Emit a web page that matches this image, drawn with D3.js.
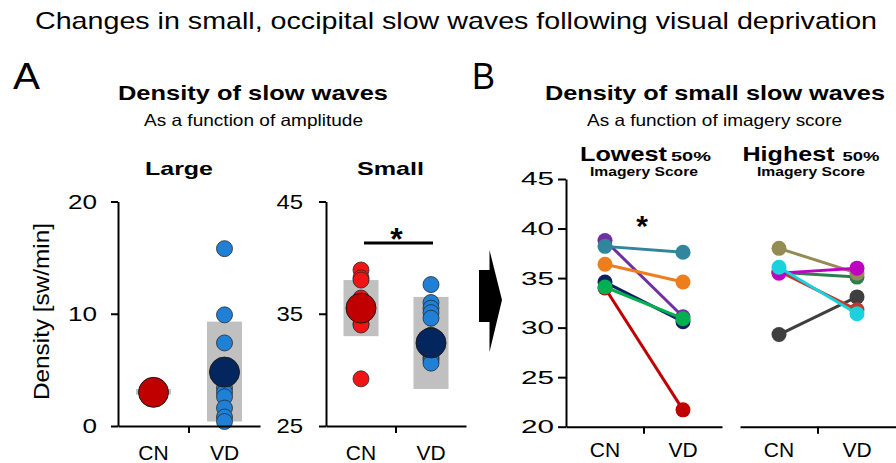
<!DOCTYPE html>
<html><head><meta charset="utf-8">
<script src="https://cdn.jsdelivr.net/npm/d3@7"></script>
<style>html,body{margin:0;padding:0;background:#fff;}svg{display:block;font-family:"Liberation Sans",Arial,sans-serif;}</style>
</head><body>
<svg id="c" width="896" height="463"></svg>
<script>
// ---------- DATA ----------
const groups = ["CN", "VD"];
// Panel A - Large slow waves
const largeCN = [3.4, 3.2, 3.0, 2.9, 2.7, 2.5];
const largeVD = [15.8, 9.9, 7.4, 3.4, 3.0, 2.6, 1.6, 0.8, 0.4];
const largeMean = [3.0, 4.8];
const largeLo = [2.8, 0.4];
const largeHi = [3.3, 9.3];
const largeTicks = [0, 10, 20];
// Panel A - Small slow waves
const smallCN = [38.9, 38.2, 38.0, 36.4, 36.1, 35.7, 35.6, 35.5, 34.6, 34.1, 34.0, 29.2];
const smallVD = [37.6, 36.0, 35.5, 35.1, 34.6, 33.1, 31.9, 31.4, 31.1, 30.9, 30.6];
const smallMean = [35.5, 32.4];
const smallLo = [33.0, 28.3];
const smallHi = [38.0, 36.5];
const smallTicks = [25, 35, 45];
// Panel B - Lowest 50% imagery score (per subject CN -> VD)
const lowestCN = [34.0, 38.8, 34.6, 36.4, 34.1, 38.2];
const lowestVD = [21.7, 31.1, 30.6, 34.6, 30.9, 37.6];
const lowestColors = ["#c00000", "#7030a0", "#0e2060", "#ee7d1c", "#00b050", "#31859c"];
// Panel B - Highest 50% imagery score
const highestCN = [29.3, 35.7, 35.6, 38.0, 35.5, 36.1];
const highestVD = [33.1, 31.8, 35.1, 35.5, 36.0, 31.4];
const highestColors = ["#3f3f3f", "#c0392b", "#2e7d4f", "#948a54", "#c000c0", "#19d2de"];
const bTicks = [20, 25, 30, 35, 40, 45];

// ---------- DRAW ----------
const svg = d3.select("#c");
const FONT = '"Liberation Sans",Arial,sans-serif';

function txt(x, y, s, size, weight, len, anchor) {
  const t = svg.append("text").attr("x", x).attr("y", y).text(s)
    .attr("font-size", size).attr("font-weight", weight || "normal")
    .attr("fill", "#000").attr("text-anchor", anchor || "start");
  if (len) t.attr("textLength", len).attr("lengthAdjust", "spacingAndGlyphs");
  return t;
}

// Headers
txt(35, 29, "Changes in small, occipital slow waves following visual deprivation", 24, "normal", 842);
txt(13, 89, "A", 36, "normal", 27);
txt(472, 89, "B", 36, "normal", 23);
txt(118, 100, "Density of slow waves", 21, "bold", 270);
txt(144, 126, "As a function of amplitude", 16.5, "normal", 219);
txt(545, 100, "Density of small slow waves", 21, "bold", 340);
txt(587, 126, "As a function of imagery score", 16.5, "normal", 255);
txt(145, 175, "Large", 19, "bold", 68);
txt(357, 175, "Small", 19, "bold", 67);
txt(580, 160.5, "Lowest", 20.5, "bold", 87);
txt(671, 160.5, "50%", 13, "bold", 40);
txt(742.5, 160.5, "Highest", 20.5, "bold", 92);
txt(842.5, 160.5, "50%", 13, "bold", 37);
txt(590, 176, "Imagery Score", 13, "bold", 108);
txt(757, 176, "Imagery Score", 13, "bold", 108);

// y label
svg.append("text").attr("transform", "translate(49,311.5) rotate(-90)")
  .attr("text-anchor", "middle").attr("font-size", 22).attr("fill", "#000")
  .attr("textLength", 177).attr("lengthAdjust", "spacingAndGlyphs")
  .text("Density [sw/min]");

function styleAxis(g, fontSize, digitW, anchorX) {
  g.select(".domain").attr("stroke", "#000").attr("stroke-width", 2);
  g.selectAll(".tick line").attr("stroke", "#000").attr("stroke-width", 2);
  g.selectAll(".tick text").attr("font-size", fontSize).attr("fill", "#000")
    .attr("font-family", FONT);
  if (digitW) {
    g.selectAll(".tick text").each(function () {
      const s = d3.select(this).text();
      d3.select(this).attr("textLength", s.length * digitW).attr("lengthAdjust", "spacingAndGlyphs");
    });
  }
}

function xAxis(xs, y0, labY, withTick) {
  const g = svg.append("g").attr("transform", `translate(0,${y0})`)
    .call(d3.axisBottom(xs).tickSize(0).tickSizeOuter(0));
  g.select(".domain").attr("stroke", "#000").attr("stroke-width", 2);
  g.selectAll(".tick text").attr("y", labY).attr("dy", 0).attr("font-size", 21)
    .attr("fill", "#000").attr("font-family", FONT);
  g.append("line").attr("x1", xs("VD")).attr("x2", xs("VD")).attr("y1", 0).attr("y2", 7)
    .attr("stroke", "#000").attr("stroke-width", 2);
  return g;
}

function yAxis(ys, x0, ticks, pad, fs, dw, tsize) {
  const g = svg.append("g").attr("transform", `translate(${x0},0)`)
    .call(d3.axisLeft(ys).tickValues(ticks).tickSize(tsize).tickSizeOuter(0).tickPadding(pad));
  styleAxis(g, fs, dw);
  return g;
}

// ---- Panel A: dot panels ----
function dotPanel(xr, dom, ticks, pts, mean, lo, hi, pad, dw) {
  const x = d3.scaleBand().domain(groups).range(xr);
  const y = d3.scaleLinear().domain(dom).range([426, 201.5]);
  const cx = g => x(g) + x.bandwidth() / 2;
  const bw = 35;
  // boxes (mean +/- SD)
  svg.append("g").selectAll("rect").data(groups).join("rect")
    .attr("x", d => cx(d) - bw / 2).attr("width", bw)
    .attr("y", (d, i) => y(hi[i])).attr("height", (d, i) => y(lo[i]) - y(hi[i]))
    .attr("fill", "#c0c0c0");
  const smallCol = ["#f01414", "#1f80d6"];
  const bigCol = ["#c00000", "#04265f"];
  groups.forEach((gname, i) => {
    svg.append("g").selectAll("circle").data(pts[i]).join("circle")
      .attr("cx", cx(gname)).attr("cy", d => y(d)).attr("r", 8)
      .attr("fill", smallCol[i]).attr("stroke", "#2a2a2a").attr("stroke-width", 0.8);
  });
  svg.append("g").selectAll("circle").data(mean).join("circle")
    .attr("cx", (d, i) => cx(groups[i])).attr("cy", d => y(d)).attr("r", 15)
    .attr("fill", (d, i) => bigCol[i]).attr("stroke", "#1a1a1a").attr("stroke-width", 1);
  yAxis(y, xr[0], ticks, pad, 21, dw, 7);
  xAxis(x, 426, 34, true);
  return { x, y, cx };
}

dotPanel([118, 260], [0, 20], largeTicks, [largeCN, largeVD], largeMean, largeLo, largeHi, 14, 14.5);
const sp = dotPanel([326, 466], [25, 45], smallTicks, [smallCN, smallVD], smallMean, smallLo, smallHi, 16, 13.3);
// significance bar
svg.append("line").attr("x1", sp.cx("CN") + 3).attr("x2", sp.cx("VD") + 2)
  .attr("y1", sp.y(41.3)).attr("y2", sp.y(41.3)).attr("stroke", "#000").attr("stroke-width", 3);
txt(sp.cx("CN") + 35.5, 250, "*", 32, "bold", null, "middle");

// arrow
svg.append("path").attr("d", "M479,270 L489.5,270 L489.5,250 L502,300 L489.5,352 L489.5,322 L479,322 Z")
  .attr("fill", "#000");

// ---- Panel B ----
const yB = d3.scaleLinear().domain([20, 45]).range([426.7, 179]);
function pairPanel(xr, cn, vd, cols, withY) {
  const x = d3.scaleBand().domain(groups).range(xr);
  const cx = g => x(g) + x.bandwidth() / 2;
  if (withY) yAxis(yB, xr[0], bTicks, 4, 18.5, 16.5, 8);
  const g = xAxis(x, 426.7, 30, true);
  cn.forEach((v, i) => {
    const s = svg.append("g");
    s.append("line").attr("x1", cx("CN")).attr("y1", yB(v)).attr("x2", cx("VD")).attr("y2", yB(vd[i]))
      .attr("stroke", cols[i]).attr("stroke-width", 3);
    s.selectAll("circle").data([[cx("CN"), v], [cx("VD"), vd[i]]]).join("circle")
      .attr("cx", d => d[0]).attr("cy", d => yB(d[1])).attr("r", 7.5).attr("fill", cols[i]);
  });
  return { x, cx };
}
const lp = pairPanel([566, 722], lowestCN, lowestVD, lowestColors, true);
pairPanel([740, 896], highestCN, highestVD, highestColors, false);
txt(642, 236, "*", 30, "bold", null, "middle");
</script>
</body></html>
